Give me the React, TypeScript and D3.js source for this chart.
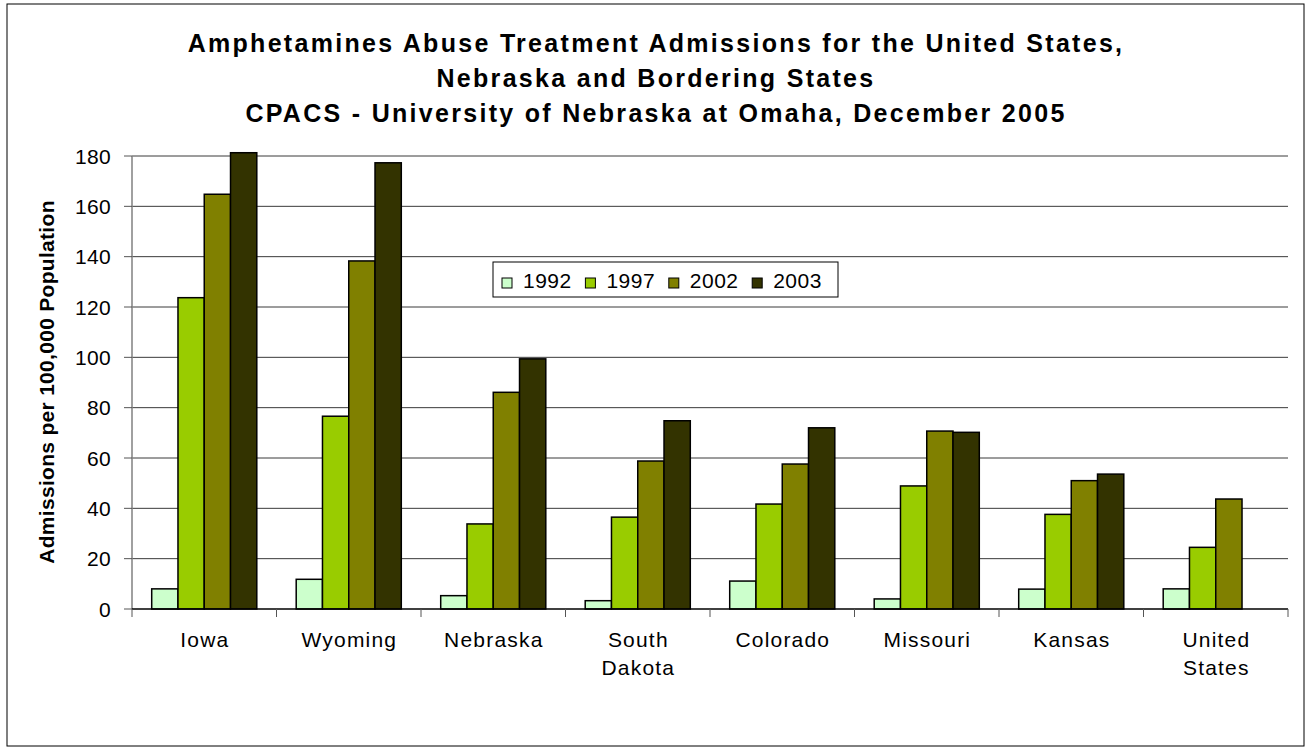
import React from "react";
import * as d3 from "d3";

const categories = ["Iowa", "Wyoming", "Nebraska", "South Dakota", "Colorado", "Missouri", "Kansas", "United States"];
const categoryLines = [["Iowa"], ["Wyoming"], ["Nebraska"], ["South", "Dakota"], ["Colorado"], ["Missouri"], ["Kansas"], ["United", "States"]];
const seriesNames = ["1992", "1997", "2002", "2003"];
const v1992 = [8, 11.8, 5.3, 3.3, 11.1, 4, 7.9, 8];
const v1997 = [123.7, 76.6, 33.8, 36.5, 41.7, 48.9, 37.6, 24.5];
const v2002 = [164.8, 138.3, 86.1, 58.8, 57.6, 70.7, 51, 43.7];
const v2003 = [181.3, 177.3, 99.4, 74.8, 72, 70.2, 53.6, null];
const seriesValues = [v1992, v1997, v2002, v2003];
const seriesColors = ["#CCFFCC", "#99CC00", "#808000", "#333300"];
const yTicks = [0, 20, 40, 60, 80, 100, 120, 140, 160, 180];
const titleLines = [
  "Amphetamines Abuse Treatment Admissions for the United States,",
  "Nebraska and Bordering States",
  "CPACS - University of Nebraska at Omaha, December 2005",
];
const yTitle = "Admissions per 100,000 Population";

const FONT = "'Liberation Sans', Arial, Helvetica, sans-serif";

export default function App() {
  const W = 1309, H = 750;
  const left = 132, right = 1288, top = 156, bottom = 609;
  const x = d3.scaleBand<string>().domain(categories).range([left, right]).padding(0);
  const y = d3.scaleLinear().domain([0, 180]).range([bottom, top]);
  const bw = x.bandwidth();
  const barW = bw / 5.5;
  const offset = (bw - barW * 4) / 2;

  const boundaries = categories.map((c) => x(c) as number).concat([right]);

  return (
    <svg width={W} height={H} style={{ position: "absolute", left: 0, top: 0, background: "#fff" }} fontFamily={FONT}>
      <rect x={7} y={4} width={1297} height={742} fill="#fff" stroke="#000" strokeWidth={1} />
      {titleLines.map((t, i) => (
        <text key={i} x={656} y={52 + i * 35} textAnchor="middle" fontSize={25} fontWeight="bold" letterSpacing={2.3} fill="#000">
          {t}
        </text>
      ))}
      {/* gridlines */}
      {yTicks.filter((t) => t > 0).map((t) => (
        <line key={t} x1={left} x2={right} y1={y(t)} y2={y(t)} stroke="#3a3a3a" strokeWidth={1} />
      ))}
      {/* y axis */}
      <line x1={left} x2={left} y1={top} y2={bottom} stroke="#808080" strokeWidth={1.5} />
      {yTicks.map((t) => (
        <g key={t}>
          <line x1={124} x2={left} y1={y(t)} y2={y(t)} stroke="#555" strokeWidth={1} />
          <text x={111} y={y(t) + 7.5} textAnchor="end" fontSize={21} letterSpacing={0.3} fill="#000">
            {t}
          </text>
        </g>
      ))}
      <text
        transform={`translate(54, 382) rotate(-90)`}
        textAnchor="middle"
        fontSize={21}
        fontWeight="bold"
        letterSpacing={0.3}
        fill="#000"
      >
        {yTitle}
      </text>
      {/* bars */}
      {categories.map((c, ci) =>
        seriesValues.map((vals, si) => {
          const v = vals[ci];
          if (v == null) return null;
          const bx = (x(c) as number) + offset + si * barW;
          return (
            <rect
              key={c + si}
              x={bx}
              y={y(v)}
              width={barW}
              height={bottom - y(v)}
              fill={seriesColors[si]}
              stroke="#000"
              strokeWidth={1.5}
            />
          );
        })
      )}
      {/* x axis */}
      <line x1={left} x2={right} y1={bottom} y2={bottom} stroke="#000" strokeWidth={1.5} />
      {boundaries.map((b, i) => (
        <line key={i} x1={b} x2={b} y1={bottom} y2={bottom + 8} stroke="#555" strokeWidth={1} />
      ))}
      {categories.map((c, ci) => (
        <text key={c} textAnchor="middle" fontSize={21} letterSpacing={1.2} fill="#000">
          {categoryLines[ci].map((ln, li) => (
            <tspan key={li} x={(x(c) as number) + bw / 2 + 0.6} y={647 + li * 28}>
              {ln}
            </tspan>
          ))}
        </text>
      ))}
      {/* legend */}
      <rect x={493} y={262} width={345} height={35} fill="#fff" stroke="#000" strokeWidth={1} />
      {seriesNames.map((s, i) => (
        <g key={s}>
          <rect x={502 + i * 83.4} y={278} width={10} height={10} fill={seriesColors[i]} stroke="#000" strokeWidth={1} />
          <text x={523 + i * 83.4} y={288} fontSize={21} letterSpacing={0.5} fill="#000">
            {s}
          </text>
        </g>
      ))}
    </svg>
  );
}
